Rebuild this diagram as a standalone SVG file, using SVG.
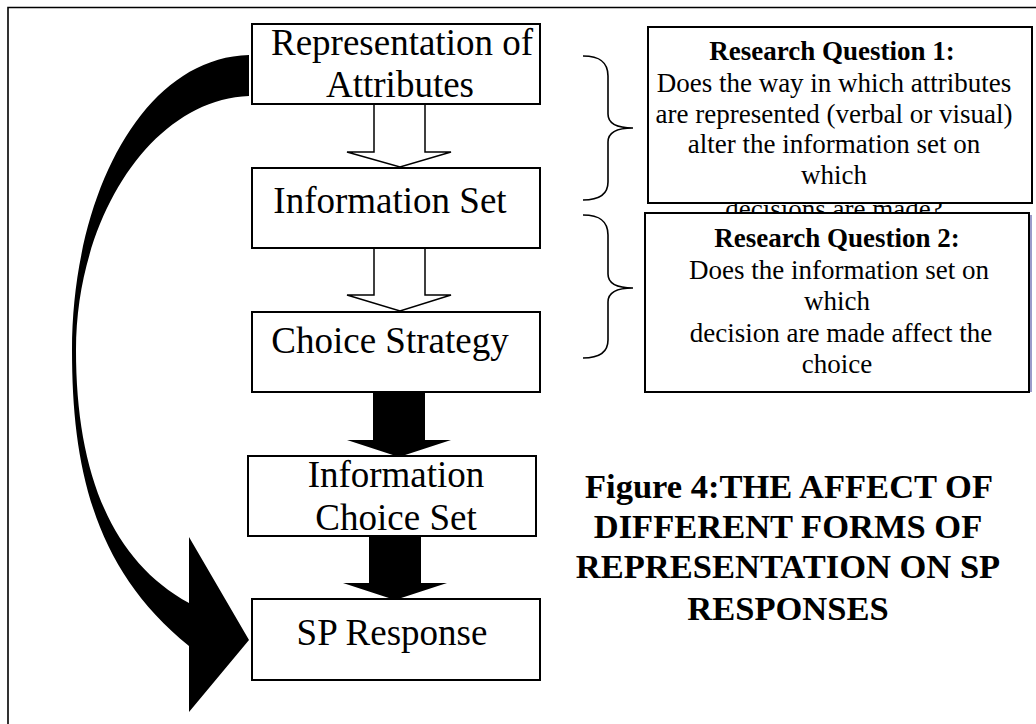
<svg xmlns="http://www.w3.org/2000/svg" width="1036" height="724" viewBox="0 0 1036 724">
<style>
.box{fill:#fff;stroke:#000;stroke-width:2}
.t{font-family:"Liberation Serif","Times New Roman",serif;fill:#000}
.big{font-size:37px}
.rq{font-size:27px;text-anchor:middle}
.b{font-weight:bold}
.hd{font-size:34.5px;font-weight:bold;text-anchor:middle}
.hollow{fill:#fff;stroke:#000;stroke-width:1.5;stroke-linejoin:miter}
.solid{fill:#000;stroke:none}
.brace{fill:none;stroke:#000;stroke-width:1.6}
</style>
<rect width="1036" height="724" fill="#fff"/>
<g id="frame">
<path d="M8,724 V7.5 H1036" fill="none" stroke="#000" stroke-width="1.6"/>
</g>
<g id="connectors">
<path class="solid" d="M249,55 C140,58 72,200 72,350 C72,470 95,570 189,646 L189,712 L249,640 L189,537 L189,603 C110,560 76,470 76,350 C76,220 150,100 249,96 Z"/>
<path class="hollow" d="M374,104 V152 H347 L400,167 L451,152 H425 V104"/>
<path class="hollow" d="M374,248 V295 H347 L400,311 L451,295 H425 V248"/>
<path class="solid" d="M373,392 V440 H347 L399,457 L451,440 H425 V392 Z"/>
<path class="solid" d="M369,536 V583 H343 L395,600 L447,583 H421 V536 Z"/>
<path class="brace" d="M583,56 C600,56 608,62 608,76 V114 C608,122 615,128 633,128 C615,128 608,134 608,142 V182 C608,194 600,200 583,200"/>
<path class="brace" d="M583,215 C600,215 608,221 608,235 V274 C608,282 615,288 633,288 C615,288 608,294 608,302 V340 C608,352 600,358 583,358"/>
</g>
<g id="n1">
<rect class="box" x="252" y="24" width="288" height="80"/>
<text class="t big" x="402" y="55" text-anchor="middle">Representation of</text>
<text class="t big" x="400" y="97" text-anchor="middle">Attributes</text>
</g>
<g id="n2">
<rect class="box" x="252" y="168" width="288" height="80"/>
<text class="t big" x="390" y="213" text-anchor="middle">Information Set</text>
</g>
<g id="n3">
<rect class="box" x="252" y="312" width="288" height="80"/>
<text class="t big" x="390" y="353" text-anchor="middle">Choice Strategy</text>
</g>
<g id="n4">
<rect class="box" x="248" y="456" width="288" height="80"/>
<text class="t big" x="396" y="487" text-anchor="middle">Information</text>
<text class="t big" x="396" y="530" text-anchor="middle">Choice Set</text>
</g>
<g id="n5">
<rect class="box" x="252" y="599" width="288" height="81"/>
<text class="t big" x="392" y="645" text-anchor="middle">SP Response</text>
</g>
<g id="rq1">
<text class="t rq" x="834" y="218">decisions are made?</text>
<rect class="box" x="648" y="27" width="384" height="176"/>
<text class="t rq b" x="832" y="60">Research Question 1:</text>
<text class="t rq" x="834" y="92">Does the way in which attributes</text>
<text class="t rq" x="834" y="123">are represented (verbal or visual)</text>
<text class="t rq" x="834" y="153">alter the information set on</text>
<text class="t rq" x="834" y="184">which</text>
</g>
<g id="rq2">
<line x1="1031" y1="215" x2="1031" y2="392" stroke="#7a7ab8" stroke-width="1.5"/>
<rect class="box" x="645" y="213" width="384" height="179"/>
<text class="t rq b" x="837" y="247">Research Question 2:</text>
<text class="t rq" x="839" y="279">Does the information set on</text>
<text class="t rq" x="837" y="310">which</text>
<text class="t rq" x="841" y="342">decision are made affect the</text>
<text class="t rq" x="837" y="373">choice</text>
</g>
<g id="title">
<text class="t hd" x="789" y="498">Figure 4:THE AFFECT OF</text>
<text class="t hd" x="788" y="538">DIFFERENT FORMS OF</text>
<text class="t hd" x="788" y="578">REPRESENTATION ON SP</text>
<text class="t hd" x="788" y="620">RESPONSES</text>
</g>
</svg>
